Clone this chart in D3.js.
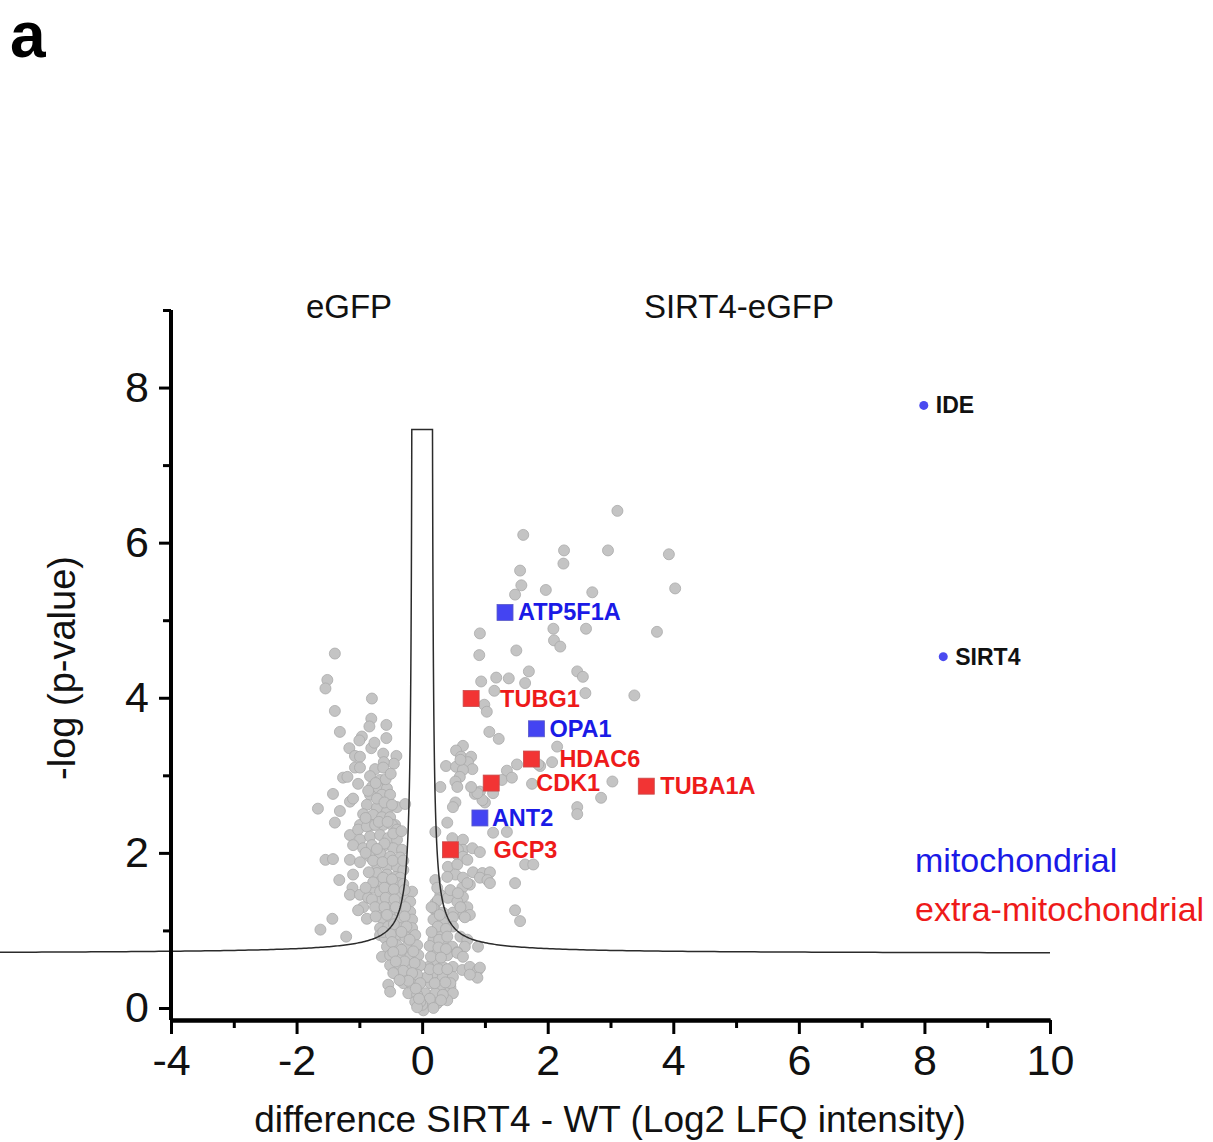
<!DOCTYPE html>
<html lang="en">
<head>
<meta charset="UTF-8">
<title>Volcano plot SIRT4-eGFP vs eGFP</title>
<script src="https://cdn.jsdelivr.net/npm/d3@7"></script>
<style>
  body { margin: 0; background: #fff; }
  svg { display: block; font-family: "Liberation Sans", Arial, sans-serif; }
  .tick text { font-family: "Liberation Sans", Arial, sans-serif; }
</style>
</head>
<body>
<script>
// ---- data ----
var xMajor = [-4, -2, 0, 2, 4, 6, 8, 10];
var xMinor = [-3, -1, 1, 3, 5, 7, 9];
var yMajor = [0, 2, 4, 6, 8];
var yMinor = [1, 3, 5, 7, 9];

// background proteins [difference, -log p]
var grey = [
  [3.11,6.41],[1.61,6.10],[2.26,5.90],[2.96,5.90],[3.93,5.85],[2.25,5.73],[1.56,5.64],[1.58,5.45],
  [1.48,5.33],[1.97,5.39],[2.71,5.36],[4.03,5.41],[2.09,4.89],[2.61,4.89],[3.74,4.85],[0.92,4.83],
  [2.10,4.74],[2.20,4.66],[0.91,4.55],[1.50,4.61],[1.70,4.34],[2.47,4.34],[2.56,4.27],[1.18,4.26],
  [1.38,4.25],[0.94,4.21],[1.64,4.19],[1.15,4.09],[2.60,4.06],[3.38,4.03],[0.99,3.91],[1.03,3.82],
  [1.07,3.56],[1.22,3.47],[2.15,3.37],[1.35,3.06],[1.51,3.14],[1.88,3.12],[2.07,3.17],[1.85,3.14],
  [1.75,2.89],[3.03,2.92],[2.85,2.71],[2.47,2.59],[2.47,2.50],[1.27,2.94],[1.43,2.97],[1.13,2.77],
  [1.00,2.65],[0.92,2.79],[0.96,2.68],[0.84,2.76],[0.88,2.77],
  [0.65,3.38],[0.54,3.32],[0.62,3.24],[0.78,3.24],[0.73,3.17],[0.38,3.12],[0.54,3.11],[0.80,3.08],
  [0.65,3.07],[0.61,3.20],[0.60,2.98],[0.53,2.92],[0.29,2.85],[0.56,2.85],[0.78,2.85],[0.53,2.65],
  [0.49,2.59],[0.40,2.39],[0.21,2.27],[0.48,2.19],[0.65,2.17],[0.65,2.04],[0.80,2.06],[0.92,2.01],
  [0.57,1.97],[0.57,2.04],[0.65,1.95],[0.72,1.91],[0.41,1.82],[0.56,1.85],[0.81,1.75],[0.96,1.74],
  [1.08,1.75],[0.53,1.72],[0.65,1.68],[0.92,1.68],[1.04,1.65],[1.48,1.61],[0.76,1.59],[0.64,1.55],
  [1.08,1.61],[0.72,1.61],[0.29,1.46],[0.41,1.42],[0.65,1.43],[0.56,1.37],[0.72,1.30],[1.48,1.26],
  [1.56,1.12],[0.21,1.35],[0.21,1.26],[0.65,1.20],[0.76,1.20],[0.49,1.23],[0.37,1.16],[1.64,1.85],
  [1.77,1.85],[1.13,2.26],[1.35,2.27],[0.21,1.65],[0.40,1.69],[0.24,1.55],[0.45,1.52],[0.57,1.48],
  [0.61,1.30],[0.25,1.39],[0.18,1.29],[0.33,1.23],[0.49,1.17],[0.68,1.17],[0.18,1.14],[0.33,1.10],
  [0.49,1.05],[0.29,0.97],[0.61,0.92],[0.72,0.88],[0.18,0.88],[0.33,0.84],[0.48,0.79],[0.68,0.79],
  [0.89,0.79],[0.56,0.72],[0.24,0.71],[0.40,0.68],[0.56,0.71],[0.65,0.66],[0.18,0.58],[0.33,0.53],
  [0.49,0.53],[0.64,0.49],[0.76,0.53],[0.89,0.49],[0.92,0.52],[0.88,0.39],[0.76,0.43],[0.18,0.45],
  [0.33,0.40],[0.49,0.40],[0.13,0.32],[0.29,0.27],[0.45,0.27],[0.45,0.32],[0.49,0.19],[0.40,0.10],
  [0.05,0.19],[0.21,0.19],[0.33,0.17],[0.10,0.06],[0.24,0.06],[0.02,-0.03],[0.08,0.40],[0.10,0.53],
  [0.15,1.30],[0.28,1.20],[0.25,1.05],[0.38,1.02],[0.15,0.98],[0.27,0.88],[0.40,0.92],[0.12,0.80],
  [0.26,0.78],[0.38,0.76],[0.14,0.66],[0.30,0.65],[0.12,0.50],[0.26,0.50],[0.40,0.50],[0.20,0.32],
  [0.37,0.33],[0.12,0.12],[0.30,0.10],[0.18,0.00],
  [-1.39,4.57],[-1.51,4.23],[-1.54,4.12],[-0.80,3.99],[-1.39,3.83],[-0.81,3.73],[-0.84,3.63],[-0.57,3.65],
  [-1.31,3.56],[-0.57,3.48],[-0.96,3.50],[-1.00,3.45],[-0.81,3.35],[-0.76,3.42],[-1.16,3.35],[-1.07,3.25],
  [-0.99,3.24],[-0.62,3.28],[-0.41,3.25],[-0.45,3.15],[-0.61,3.17],[-1.07,3.10],[-0.99,3.10],[-0.75,3.08],
  [-0.62,3.10],[-1.26,2.97],[-1.19,2.98],[-0.83,2.99],[-0.67,2.94],[-1.02,2.89],[-0.80,2.85],[-0.70,2.84],
  [-0.56,2.83],[-1.42,2.76],[-0.83,2.75],[-0.64,2.75],[-0.51,2.75],[-1.15,2.66],[-1.10,2.70],[-0.40,2.59],
  [-0.27,2.63],[-1.66,2.57],[-1.31,2.54],[-0.88,2.62],[-0.72,2.58],[-0.56,2.53],[-0.94,2.50],[-0.78,2.49],
  [-0.64,2.46],[-0.51,2.46],[-1.39,2.39],[-0.99,2.36],[-0.80,2.36],[-0.62,2.36],[-0.43,2.36],
  [-1.15,2.23],[-1.02,2.30],[-0.88,2.34],[-0.75,2.36],[-0.48,2.36],[-0.40,2.30],[-0.99,2.17],[-0.83,2.21],
  [-0.67,2.23],[-0.54,2.19],[-0.40,2.17],[-1.10,2.10],[-0.94,2.06],[-0.80,2.10],[-0.62,2.08],[-0.46,2.06],
  [-0.32,2.04],[-1.54,1.91],[-1.42,1.92],[-1.15,1.91],[-0.99,1.88],[-0.83,1.95],[-0.67,2.00],[-0.51,1.95],
  [-0.35,1.94],[-0.72,1.85],[-0.56,1.82],[-0.40,1.82],[-0.30,1.78],[-1.10,1.72],[-0.72,1.74],[-0.56,1.72],
  [-0.43,1.69],[-0.35,1.68],[-1.32,1.65],[-0.67,1.63],[-0.51,1.59],[-0.38,1.61],[-0.78,1.55],[-1.11,1.55],
  [-1.15,1.46],[-0.99,1.46],[-0.86,1.42],[-0.67,1.50],[-0.54,1.48],[-0.38,1.46],[-0.24,1.43],[-0.16,1.50],
  [-0.67,1.37],[-0.51,1.37],[-0.35,1.35],[-0.19,1.37],[-0.94,1.30],[-1.02,1.26],[-0.67,1.26],[-0.51,1.24],
  [-0.35,1.23],[-0.19,1.24],[-0.64,1.16],[-0.48,1.14],[-0.32,1.14],[-0.16,1.14],[-1.43,1.15],[-0.88,1.15],
  [-0.67,1.03],[-0.54,1.05],[-0.35,1.03],[-0.16,1.03],[-1.62,1.01],[-1.21,0.92],[-0.67,0.94],[-0.59,0.90],
  [-0.43,0.90],[-0.27,0.92],[-0.11,0.94],[-0.56,0.79],[-0.40,0.81],[-0.24,0.79],[-0.08,0.81],[-0.64,0.66],
  [-0.51,0.68],[-0.35,0.68],[-0.19,0.66],[-0.06,0.68],[-0.51,0.55],[-0.35,0.55],[-0.19,0.53],[-0.03,0.55],
  [-0.40,0.43],[-0.24,0.43],[-0.08,0.43],[-0.54,0.30],[-0.51,0.21],[-0.30,0.32],[-0.16,0.30],[-0.03,0.32],
  [-0.22,0.19],[-0.08,0.17],[-0.11,0.08],[0.00,0.04],[-0.03,0.08],[-0.08,0.01],
  [-0.72,2.70],[-0.60,2.65],[-0.48,2.62],[-0.86,2.80],[-0.74,2.90],[-0.58,2.95],[-0.50,3.02],[-0.90,2.45],
  [-0.69,2.40],[-0.55,2.40],[-0.46,2.25],[-0.33,2.28],[-0.60,2.12],[-0.72,2.05],[-0.90,2.00],[-0.78,1.90],
  [-0.63,1.88],[-0.47,1.90],[-0.30,1.90],[-0.85,1.75],[-0.62,1.68],[-0.48,1.66],[-0.30,1.60],[-0.78,1.62],
  [-0.90,1.55],[-0.60,1.55],[-0.45,1.53],[-0.28,1.52],[-0.80,1.40],[-0.58,1.42],[-0.44,1.40],[-0.27,1.30],
  [-0.75,1.30],[-0.60,1.30],[-0.42,1.30],[-0.28,1.18],[-0.56,1.20],[-0.74,1.18],[-0.45,1.08],[-0.25,1.05],
  [-0.62,0.98],[-0.50,0.95],[-0.33,0.98],[-0.20,0.88],[-0.48,0.85],[-0.33,0.75],[-0.46,0.72],[-0.14,0.73],
  [-0.28,0.60],[-0.42,0.60],[-0.12,0.58],[-0.30,0.48],[-0.16,0.45],[-0.46,0.45],[-0.22,0.35],[-0.10,0.25],
  [-0.36,0.36],[-0.05,0.12]
];

var hiGenes = ["ATP5F1A", "TUBG1", "OPA1", "HDAC6", "CDK1", "TUBA1A", "ANT2", "GCP3"];
var hiX     = [1.32, 0.78, 1.82, 1.74, 1.10, 3.57, 0.92, 0.45];
var hiY     = [5.10, 3.99, 3.60, 3.21, 2.90, 2.86, 2.45, 2.04];
var hiType  = ["mito", "extra", "mito", "extra", "extra", "extra", "mito", "extra"];

var baitGenes = ["IDE", "SIRT4"];
var baitX = [7.99, 8.30];
var baitY = [7.77, 4.53];

// significance curve (Perseus style): y = y0 + c / (|x| - s0), capped
var curveY0 = 0.70, curveC = 0.121, curveS0 = 0.147, curveCap = 7.46;

// ---- layout ----
var W = 1213, H = 1142;
var svg = d3.select("body").append("svg").attr("width", W).attr("height", H);

var x = d3.scaleLinear().domain([-4, 10]).range([171, 1050]);
var y = d3.scaleLinear().domain([-0.155, 9]).range([1020, 310]);

var blue = "#1a1ae6", red = "#ee1a1a";
var labelDx = { ATP5F1A: 13, TUBG1: 29, OPA1: 13, HDAC6: 28, CDK1: 45, TUBA1A: 14, ANT2: 12, GCP3: 43 };

// grey points
svg.append("g").selectAll("circle")
  .data(grey)
  .enter().append("circle")
  .attr("cx", function(d) { return x(d[0]); })
  .attr("cy", function(d) { return y(d[1]); })
  .attr("r", 5.5)
  .attr("fill", "#c4c4c4")
  .attr("stroke", "#a9a9a9")
  .attr("stroke-width", 0.8);

// threshold curve
function fc(ax) { return curveY0 + curveC / (ax - curveS0); }
var xCap = curveS0 + curveC / (curveCap - curveY0);
var xLeftEnd = x.invert(0);
var pts = [];
d3.range(0, 1.0001, 0.005).forEach(function(t) {
  var ax = xCap + (Math.abs(xLeftEnd) - xCap) * Math.pow(1 - t, 3);
  pts.push([-ax, fc(ax)]);
});
pts.push([-xCap, curveCap], [xCap, curveCap]);
d3.range(0, 1.0001, 0.005).forEach(function(t) {
  var ax = xCap + (10 - xCap) * Math.pow(t, 3);
  pts.push([ax, fc(ax)]);
});
var line = d3.line().x(function(d) { return x(d[0]); }).y(function(d) { return y(d[1]); });
svg.append("path").datum(pts)
  .attr("d", line)
  .attr("fill", "none")
  .attr("stroke", "#2b2b2b")
  .attr("stroke-width", 1.5);

// highlighted proteins
var hi = hiGenes.map(function(g, i) { return { g: g, x: hiX[i], y: hiY[i], t: hiType[i] }; });
var sq = 16;
svg.append("g").selectAll("rect")
  .data(hi).enter().append("rect")
  .attr("x", function(d) { return x(d.x) - sq / 2; })
  .attr("y", function(d) { return y(d.y) - sq / 2; })
  .attr("width", sq).attr("height", sq)
  .attr("fill", function(d) { return d.t === "mito" ? "#4444f2" : "#f23434"; })
  .attr("stroke", function(d) { return d.t === "mito" ? "#5a5ac8" : "#c84a4a"; })
  .attr("stroke-width", 0.8);
svg.append("g").selectAll("text")
  .data(hi).enter().append("text")
  .attr("x", function(d) { return x(d.x) + labelDx[d.g]; })
  .attr("y", function(d) { return y(d.y) + 8; })
  .attr("font-size", 23.5).attr("font-weight", "bold")
  .attr("fill", function(d) { return d.t === "mito" ? blue : red; })
  .text(function(d) { return d.g; });

// bait proteins
var baits = baitGenes.map(function(g, i) { return { g: g, x: baitX[i], y: baitY[i] }; });
svg.append("g").selectAll("circle")
  .data(baits).enter().append("circle")
  .attr("cx", function(d) { return x(d.x); })
  .attr("cy", function(d) { return y(d.y); })
  .attr("r", 4.5).attr("fill", "#4a4af0");
svg.append("g").selectAll("text")
  .data(baits).enter().append("text")
  .attr("x", function(d) { return x(d.x) + 12; })
  .attr("y", function(d) { return y(d.y) + 8; })
  .attr("font-size", 23).attr("font-weight", "bold").attr("fill", "#111")
  .text(function(d) { return d.g; });

// axes
function styleAxis(g, w) {
  g.select(".domain").attr("stroke", "#000").attr("stroke-width", w);
  g.selectAll(".tick line").attr("stroke", "#000").attr("stroke-width", 3);
  g.selectAll(".tick text").attr("fill", "#111").attr("font-size", 43);
}
var gx = svg.append("g").attr("transform", "translate(0," + y.range()[0] + ")");
gx.call(d3.axisBottom(x).tickValues(xMinor).tickSize(8).tickSizeOuter(0).tickFormat(""));
styleAxis(gx, 4);
var gx2 = svg.append("g").attr("transform", "translate(0," + y.range()[0] + ")");
gx2.call(d3.axisBottom(x).tickValues(xMajor).tickSize(14).tickSizeOuter(0).tickPadding(10)
  .tickFormat(function(d) { return String(d); }));
styleAxis(gx2, 4);

var gy = svg.append("g").attr("transform", "translate(" + x.range()[0] + ",0)");
gy.call(d3.axisLeft(y).tickValues(yMinor).tickSize(8).tickSizeOuter(0).tickFormat(""));
styleAxis(gy, 4);
var gy2 = svg.append("g").attr("transform", "translate(" + x.range()[0] + ",0)");
gy2.call(d3.axisLeft(y).tickValues(yMajor).tickSize(12).tickSizeOuter(0).tickPadding(10)
  .tickFormat(function(d) { return String(d); }));
styleAxis(gy2, 4);
gy2.select(".domain").attr("d", "M0," + y(9) + "V" + y.range()[0]);
gy.select(".domain").attr("d", "M0," + y(9) + "V" + y.range()[0]);

// axis titles
svg.append("text")
  .attr("x", 610).attr("y", 1132)
  .attr("text-anchor", "middle").attr("font-size", 37).attr("fill", "#111")
  .text("difference SIRT4 - WT (Log2 LFQ intensity)");
svg.append("text")
  .attr("transform", "translate(75,668) rotate(-90)")
  .attr("text-anchor", "middle").attr("font-size", 38).attr("fill", "#111")
  .text("-log (p-value)");

// side captions
svg.append("text").attr("x", 349).attr("y", 318).attr("text-anchor", "middle")
  .attr("font-size", 33).attr("fill", "#111").text("eGFP");
svg.append("text").attr("x", 739).attr("y", 318).attr("text-anchor", "middle")
  .attr("font-size", 33).attr("fill", "#111").text("SIRT4-eGFP");

// legend
svg.append("text").attr("x", 915).attr("y", 872).attr("font-size", 34)
  .attr("fill", blue).text("mitochondrial");
svg.append("text").attr("x", 915).attr("y", 921).attr("font-size", 34)
  .attr("fill", red).text("extra-mitochondrial");

// panel letter
svg.append("text").attr("x", 10).attr("y", 57).attr("font-size", 64)
  .attr("font-weight", "bold").attr("fill", "#000").text("a");
</script>
</body>
</html>
